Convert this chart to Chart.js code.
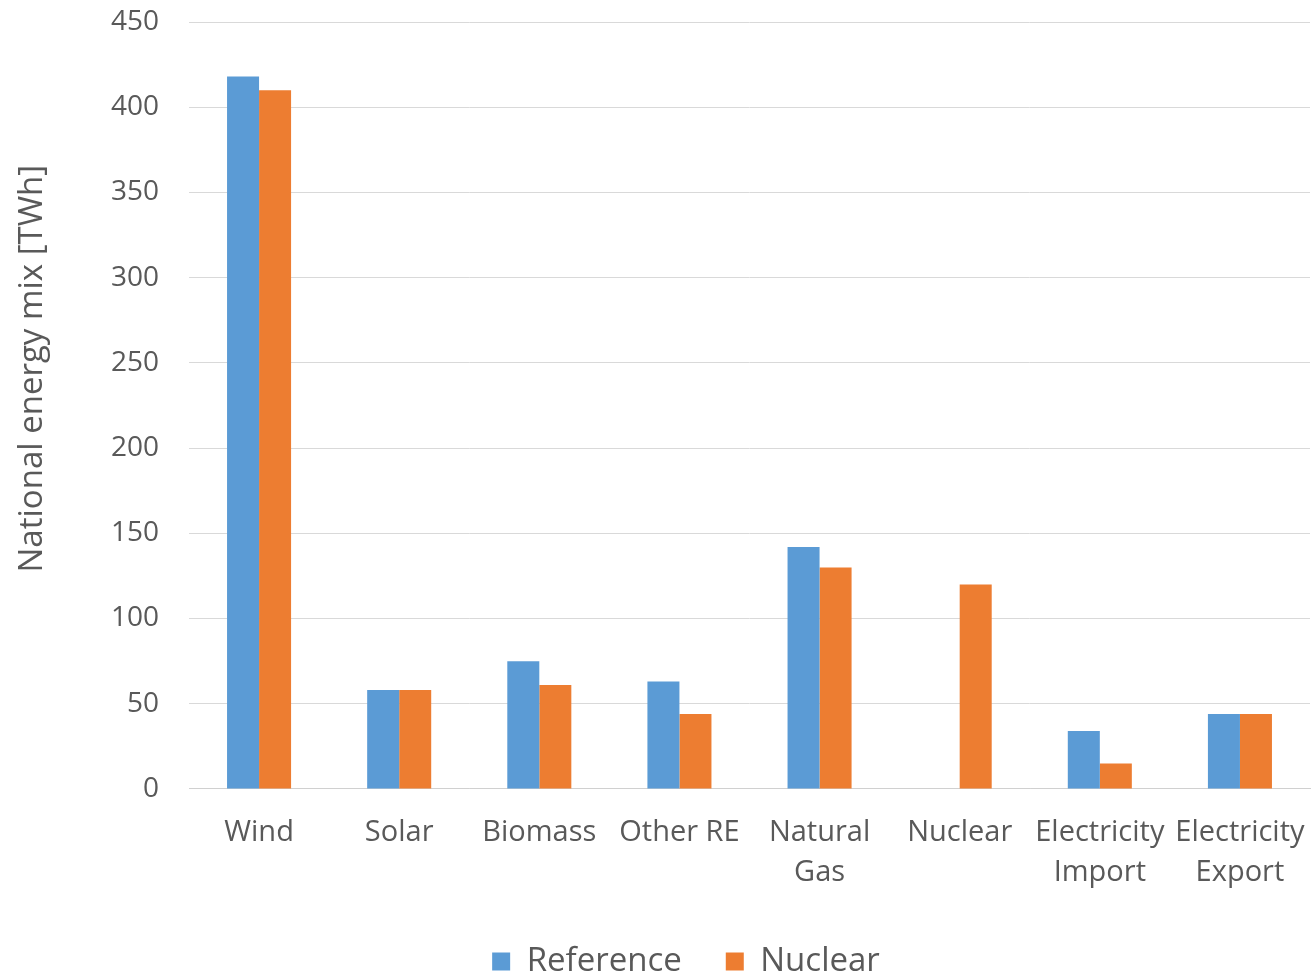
<!DOCTYPE html>
<html>
<head>
<meta charset="utf-8">
<script src="https://cdn.jsdelivr.net/npm/chart.js@4/dist/chart.umd.min.js"></script>
<style>
  html, body { margin: 0; padding: 0; background: #ffffff; }
  #wrap { width: 1313px; height: 976px; }
</style>
</head>
<body>
<div id="wrap"><canvas id="chart" width="1313" height="976"></canvas></div>
<script>
// Energy sources (multi-line labels as arrays)
const categories = [
  "Wind", "Solar", "Biomass", "Other RE",
  ["Natural", "Gas"], "Nuclear",
  ["Electricity", "Import"], ["Electricity", "Export"]
];

// Annual generation per scenario, TWh
const referenceValues = [418, 58, 75, 63, 142, 0, 34, 44];
const nuclearValues   = [410, 58, 61, 44, 130, 120, 15, 44];

const yTicks = [0, 50, 100, 150, 200, 250, 300, 350, 400, 450];
const yTitle = "National energy mix [TWh]";

const textColor = "#595959";
const fontFamily = "'Open Sans', 'Liberation Sans', sans-serif";

// Vertical axis title, drawn beside the tick labels
const axisTitlePlugin = {
  id: "axisTitle",
  afterDraw(chart) {
    const { ctx, chartArea } = chart;
    const cy = chartArea.top + (chartArea.bottom - chartArea.top) * 0.452;
    ctx.save();
    ctx.translate(33, cy);
    ctx.rotate(-Math.PI / 2);
    ctx.font = "33px " + fontFamily;
    ctx.fillStyle = textColor;
    ctx.textAlign = "center";
    ctx.textBaseline = "middle";
    ctx.fillText(yTitle, 0, 0);
    ctx.restore();
  }
};

// Nudge the legend block to the right of the canvas centre
const legendShiftPlugin = {
  id: "legendShift",
  afterLayout(chart) {
    const lg = chart.legend;
    if (lg) { lg.left += 31; lg.right += 31; }
  }
};

new Chart(document.getElementById("chart"), {
  type: "bar",
  data: {
    labels: categories,
    datasets: [
      { label: "Reference", data: referenceValues, backgroundColor: "#5B9BD5" },
      { label: "Nuclear",   data: nuclearValues,   backgroundColor: "#ED7D31" }
    ]
  },
  plugins: [axisTitlePlugin, legendShiftPlugin],
  options: {
    responsive: false,
    animation: false,
    devicePixelRatio: 1,
    datasets: { bar: { categoryPercentage: 0.457, barPercentage: 1.0 } },
    layout: { padding: { top: 0, right: 3, left: 0, bottom: -12 } },
    plugins: {
      tooltip: { enabled: false },
      legend: {
        position: "bottom",
        labels: {
          color: textColor,
          font: { family: fontFamily, size: 33 },
          boxWidth: 18,
          boxHeight: 18,
          padding: 44
        }
      }
    },
    scales: {
      x: {
        grid: { display: false, drawTicks: false },
        border: { display: true, color: "#d0d0d0", width: 1 },
        ticks: {
          color: textColor,
          font: { family: fontFamily, size: 29, lineHeight: 1.38 },
          padding: 24,
          maxRotation: 0,
          minRotation: 0,
          autoSkip: false
        },
        afterFit: (axis) => { axis.paddingLeft = 0; axis.paddingRight = 0; axis.height -= 16; }
      },
      y: {
        min: 0,
        max: 450,
        afterBuildTicks: (axis) => { axis.ticks = yTicks.map(v => ({ value: v })); },
        // room for the rotated title plus the tick labels; small top gap
        afterFit: (axis) => { axis.width = 189; axis.paddingTop = 22; axis.paddingBottom = 0; },
        grid: { color: "#d9d9d9", lineWidth: 1, drawTicks: false },
        border: { display: false },
        ticks: {
          color: textColor,
          font: { family: fontFamily, size: 28 },
          padding: 30
        },
        title: { display: false }
      }
    }
  }
});
</script>
</body>
</html>
